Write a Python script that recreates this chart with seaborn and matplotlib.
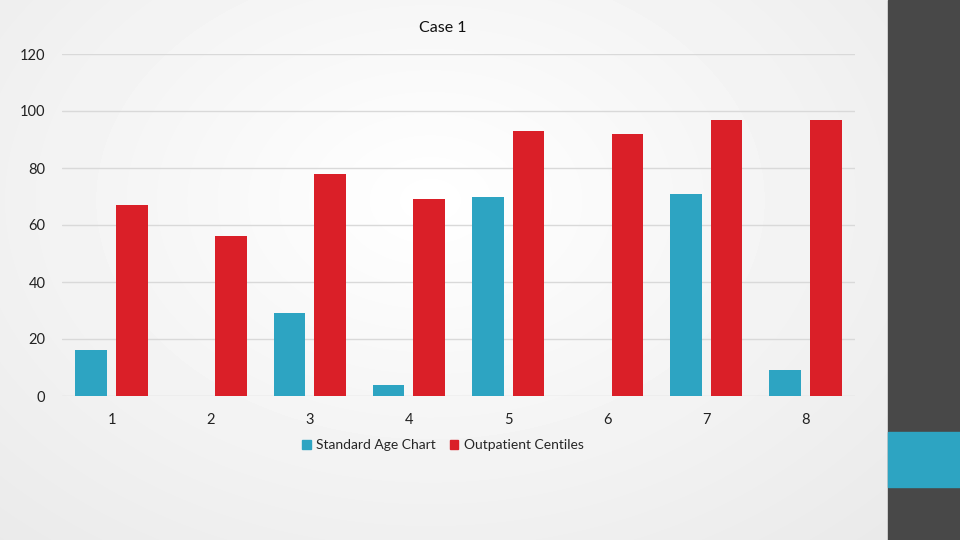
import numpy as np
import pandas as pd
import matplotlib
matplotlib.use("Agg")
import matplotlib.pyplot as plt
from matplotlib.patches import Rectangle
import seaborn as sns

# values
cases = ["1", "2", "3", "4", "5", "6", "7", "8"]
standard_age = [16, 0, 29, 4, 70, 0, 71, 9]
outpatient = [67, 56, 78, 69, 93, 92, 97, 97]
series = ["Standard Age Chart", "Outpatient Centiles"]
colors = ["#2DA4C2", "#DA1F28"]

df = pd.DataFrame({
    "case": cases * 2,
    "value": standard_age + outpatient,
    "series": [series[0]] * len(cases) + [series[1]] * len(cases),
})

sns.set_theme(style="white")
plt.rcParams["font.family"] = ["Lato", "DejaVu Sans"]

fig = plt.figure(figsize=(9.6, 5.4), dpi=100)

# soft grey gradient background
bg = fig.add_axes([0, 0, 1, 1], zorder=-10)
yy, xx = np.mgrid[0:540, 0:960]
d = np.sqrt(((xx - 430) / 700.0) ** 2 + ((yy - 200) / 500.0) ** 2)
shade = 1.0 - 0.09 * np.clip(d, 0, 1)
bg.imshow(shade, cmap="gray", vmin=0, vmax=1, extent=[0, 1, 0, 1], aspect="auto")
bg.set_axis_off()

# dark side panel with blue block
fig.patches.append(Rectangle((888 / 960, 0), 72 / 960, 1, transform=fig.transFigure,
                             color="#484848", zorder=-5))
fig.patches.append(Rectangle((888 / 960, 1 - 487 / 540), 72 / 960, 55 / 540,
                             transform=fig.transFigure, color="#2DA4C2", zorder=-4))

ax = fig.add_axes([62 / 960, 1 - 396 / 540, 793 / 960, 342 / 540])
ax.patch.set_alpha(0)
sns.barplot(data=df, x="case", y="value", hue="series", palette=colors,
            saturation=1, width=0.82, gap=0.22, linewidth=0, edgecolor="none",
            ax=ax, legend=False, zorder=3)

ax.set_ylim(0, 120)
ax.set_yticks(range(0, 121, 20))
ax.set_xlim(-0.5, len(cases) - 0.5)
ax.grid(axis="y", color="#d9d9d9", linewidth=1, zorder=0)
ax.set_axisbelow(True)
for s in ax.spines.values():
    s.set_visible(False)
ax.set_xlabel("")
ax.set_ylabel("")
ax.tick_params(axis="both", length=0, labelsize=10.5, labelcolor="#222222")
ax.tick_params(axis="y", pad=12)
ax.tick_params(axis="x", pad=12)

fig.text(443 / 960, 1 - 28 / 540, "Case 1", ha="center", va="center",
         fontsize=11.5, color="#111111")

handles = [Rectangle((0, 0), 1, 1, color=c) for c in colors]
fig.legend(handles, series, loc="center", bbox_to_anchor=(443 / 960, 1 - 445 / 540),
           ncol=2, frameon=False, fontsize=10, handlelength=0.6, handleheight=0.6,
           handletextpad=0.4, columnspacing=1.0)

fig.savefig("out.png", dpi=100)
